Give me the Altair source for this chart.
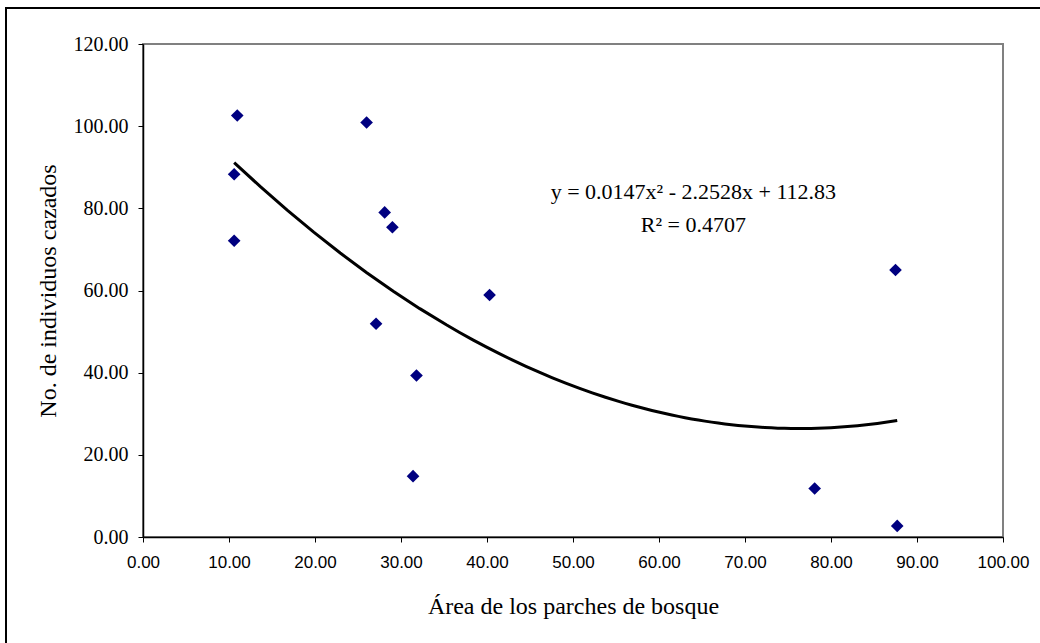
import altair as alt
import pandas as pd

# Data
area = [10.96, 10.6, 10.6, 26.0, 28.1, 29.0, 27.1, 31.8, 31.4, 40.3, 78.1, 87.5, 87.7]
cazados = [102.6, 88.3, 72.1, 100.9, 79.0, 75.4, 51.9, 39.3, 14.8, 58.9, 11.8, 65.0, 2.7]

eq_text = ["y = 0.0147x² - 2.2528x + 112.83", "R² = 0.4707"]
eq_x = [64.0, 64.0]
eq_y = [82.3, 74.3]

df = pd.DataFrame({"x": area, "y": cazados})
eq = pd.DataFrame({"t": eq_text, "x": eq_x, "y": eq_y})

W, H = 860, 493
L, T = 143, 44

xscale = alt.Scale(domain=[0, 100], nice=False, zero=False)
yscale = alt.Scale(domain=[0, 120], nice=False, zero=False)

xaxis = alt.Axis(
    title="Área de los parches de bosque",
    values=list(range(0, 101, 10)), format=".2f", grid=False, labelFlush=False,
    domainColor="black", domainWidth=1.5, tickColor="black", tickSize=5,
    labelFont="Liberation Sans", labelFontSize=17, labelColor="black", labelPadding=12,
    titleFont="Liberation Serif", titleFontSize=24, titleFontWeight="normal", titleColor="black",
    titleY=76, titleBaseline="alphabetic",
)
yaxis = alt.Axis(
    title="No. de individuos cazados",
    values=list(range(0, 121, 20)), format=".2f", grid=False, labelFlush=False,
    domainColor="black", domainWidth=1.5, tickColor="black", tickSize=5,
    labelFont="Liberation Serif", labelFontSize=20, labelColor="black", labelPadding=10,
    titleFont="Liberation Serif", titleFontSize=24, titleFontWeight="normal", titleColor="black",
    titleX=-88, titleBaseline="alphabetic", titleAngle=-90,
)

frame = alt.Chart(df).mark_rect(fill=None, stroke="black", strokeWidth=1.5).encode(
    x=alt.value(6 - L), x2=alt.value(1040 - L + 10),
    y=alt.value(8 - T), y2=alt.value(643 - T + 10),
)

points = alt.Chart(df).mark_point(shape="diamond", filled=True, color="#000080", size=160, opacity=1).encode(
    x=alt.X("x:Q", scale=xscale, axis=xaxis),
    y=alt.Y("y:Q", scale=yscale, axis=yaxis),
)

trend = alt.Chart(df).transform_regression("x", "y", method="poly", order=2).mark_line(
    color="black", strokeWidth=3
).encode(
    x=alt.X("x:Q", scale=xscale),
    y=alt.Y("y:Q", scale=yscale),
)

label = alt.Chart(eq).mark_text(font="Liberation Serif", fontSize=22, color="black",
                                align="center", baseline="alphabetic").encode(
    x=alt.X("x:Q", scale=xscale),
    y=alt.Y("y:Q", scale=yscale),
    text="t:N",
)

chart = alt.layer(frame, points, trend, label).properties(
    width=W, height=H,
    autosize=alt.AutoSizeParams(type="none"),
    padding={"left": L, "top": T, "right": 1040 - L - W, "bottom": 643 - T - H},
    background="white",
).configure_view(stroke="#808080", strokeWidth=2)

chart.save("out.html", embed_options={"renderer": "svg", "actions": False})
